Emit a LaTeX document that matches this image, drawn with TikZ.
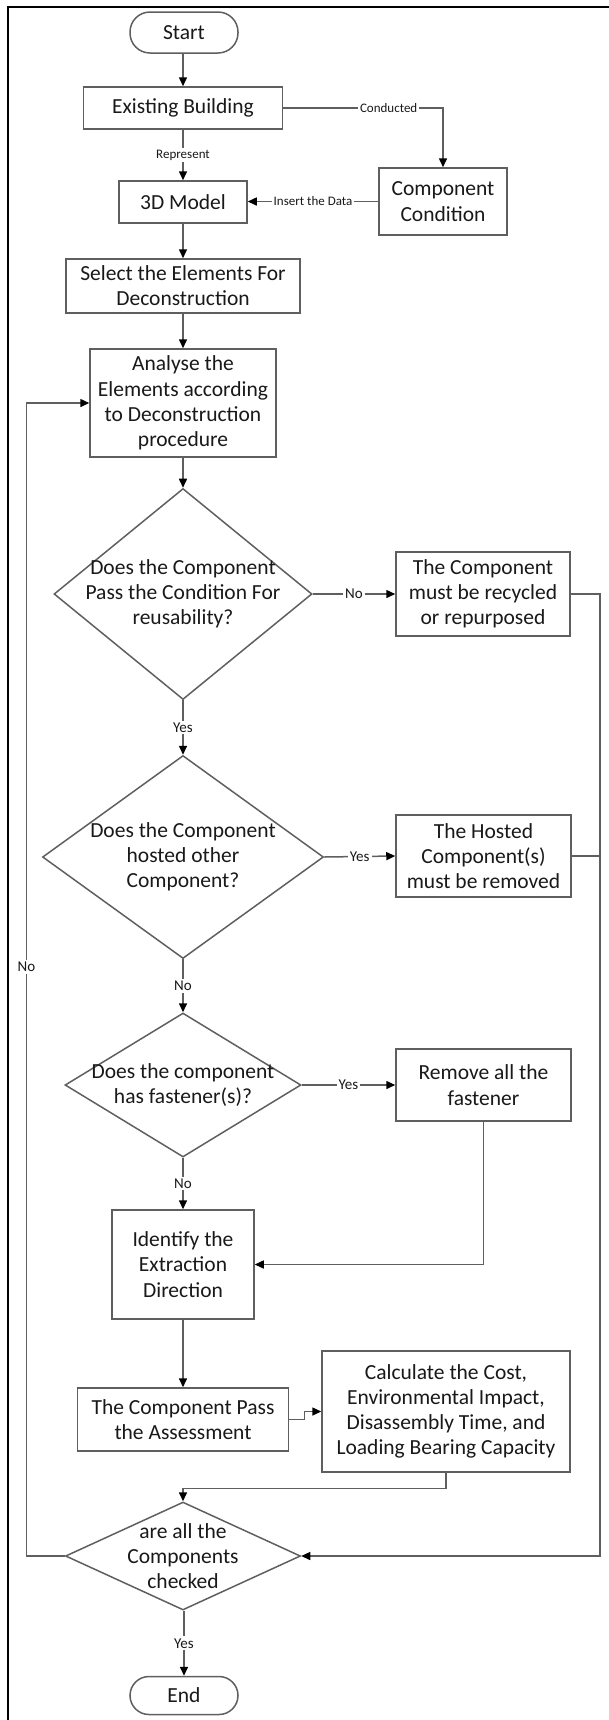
\documentclass[tikz,border=0pt]{standalone}
\usepackage{fontspec}
\setmainfont{Carlito}
\usetikzlibrary{arrows.meta,shapes.geometric}
\definecolor{linec}{RGB}{95,95,95}
\definecolor{txt}{RGB}{25,25,25}
\begin{document}
\begin{tikzpicture}[x=0.5pt,y=-0.5pt,
  every node/.style={text=txt, align=center},
  box/.style={draw=linec, line width=0.75pt, inner sep=0pt, fill=white,
    font=\fontsize{10.75}{12.6}\selectfont},
  term/.style={box, rounded corners=10pt},
  dia/.style={draw=linec, line width=0.75pt, shape=diamond, inner sep=0pt},
  dtext/.style={font=\fontsize{10.75}{12.6}\selectfont, inner sep=0pt},
  conn/.style={draw=linec, line width=0.75pt,
    -{Triangle[length=4.5pt,width=4pt,color=black]}},
  plain/.style={draw=linec, line width=0.75pt},
  lab/.style={font=\fontsize{6.5}{7}\selectfont, fill=white, inner sep=0.8pt},
  yn/.style={font=\fontsize{7.5}{8}\selectfont, fill=white, inner sep=1pt},
]
\useasboundingbox (0,0) rectangle (609,1720);

% outer frame (top and left edges)
\draw[line width=1.25pt, black] (8,1720) -- (8,7) -- (609,7);

% process nodes
\node[term, minimum width=54pt, minimum height=20.5pt] (start) at (184,32.5) {Start};
\node[box, minimum width=99.5pt, minimum height=21pt] (exist) at (183,108) {Existing Building};
\node[box, minimum width=64pt, minimum height=33.5pt] (cond) at (443,201.5) {Component\\Condition};
\node[box, minimum width=64pt, minimum height=21pt] (model) at (183,202) {3D Model};
\node[box, minimum width=117pt, minimum height=27pt] (select) at (183,286) {Select the Elements For\\Deconstruction};
\node[box, minimum width=93pt, minimum height=54pt] (analyse) at (183,403) {Analyse the\\Elements according\\to Deconstruction\\procedure};

\node[dia, minimum width=129pt, minimum height=105.5pt] (d1) at (183,594) {};
\node[dtext] (d1t) at (d1.center) {Does the Component\\Pass the Condition For\\reusability?};
\node[box, minimum width=87pt, minimum height=42pt] (recyc) at (483,594) {The Component\\must be recycled\\or repurposed};

\node[dia, minimum width=140.5pt, minimum height=101.5pt] (d2) at (183,857) {};
\node[dtext] (d2t) at (d2.center) {Does the Component\\hosted other\\Component?};
\node[box, minimum width=87.5pt, minimum height=41pt] (hosted) at (483.5,856) {The Hosted\\Component(s)\\must be removed};

\node[dia, minimum width=118pt, minimum height=72pt] (d3) at (183,1085) {};
\node[dtext] (d3t) at (d3.center) {Does the component\\has fastener(s)?};
\node[box, minimum width=87.5pt, minimum height=36pt] (remove) at (483.5,1085) {Remove all the\\fastener};

\node[box, minimum width=71pt, minimum height=54.5pt] (ident) at (183,1264.5) {Identify the\\Extraction\\Direction};
\node[box, minimum width=105.5pt, minimum height=31.5pt] (pass) at (183,1419.5) {The Component Pass\\the Assessment};
\node[box, minimum width=124pt, minimum height=60.5pt] (calc) at (446,1411.5) {Calculate the Cost,\\Environmental Impact,\\Disassembly Time, and\\Loading Bearing Capacity};

\node[dia, minimum width=117.5pt, minimum height=54pt] (d4) at (183,1556) {};
\node[dtext] (d4t) at (d4.center) {are all the\\Components\\checked};
\node[term, rounded corners=9.5pt, minimum width=54pt, minimum height=19pt] (end) at (184,1695.5) {End};

% helper points for the side rails
\coordinate (railR) at (600,594);
\coordinate (noL) at (26.5,967);

% connectors
\draw[conn] (start.south -| exist.north) -- (exist.north);
\draw[conn] (exist) -- node[lab] (repl) {Represent} (model);
\draw[conn] (exist.east) -| node[lab, pos=0.33] (condl) {Conducted} (cond.north);
\draw[conn] (cond.west) -- node[lab] (insl) {Insert the Data} (cond.west -| model.east);
\draw[conn] (model) -- (select);
\draw[conn] (select) -- (analyse);
\draw[conn] (analyse) -- (d1);

\draw[conn] (d1.east) -- node[yn] (n1) {No} (recyc.west);
\draw[conn] (d1.south) -- node[yn] (y1) {Yes} (d2.north);
\draw[conn] (d2.east) -- node[yn] (y2) {Yes} (hosted.west);
\draw[conn] (d2.south) -- node[yn] (n2) {No} (d3.north);
\draw[conn] (d3.east) -- node[yn] (y3) {Yes} (remove.west);
\draw[conn] (d3.south) -- node[yn] (n3) {No} (ident.north);
\draw[conn] (remove.south) |- (ident.east);
\draw[conn] (ident) -- (pass);
\draw[conn] (pass.east) -- ++(15,0) |- (calc.west);
\draw[conn] (calc.south) -- ++(0,15.5) -| (d4.north);

\draw[conn] (recyc.east) -- (railR) |- (d4.east);
\draw[plain] (hosted.east) -- (hosted.east -| railR);

\draw[conn] (d4.west) -| (noL) |- (analyse.west);
\node[yn] (n4) at (noL) {No};

\draw[conn] (d4.south -| end.north) -- node[yn] (y4) {Yes} (end.north);
\end{tikzpicture}
\end{document}
